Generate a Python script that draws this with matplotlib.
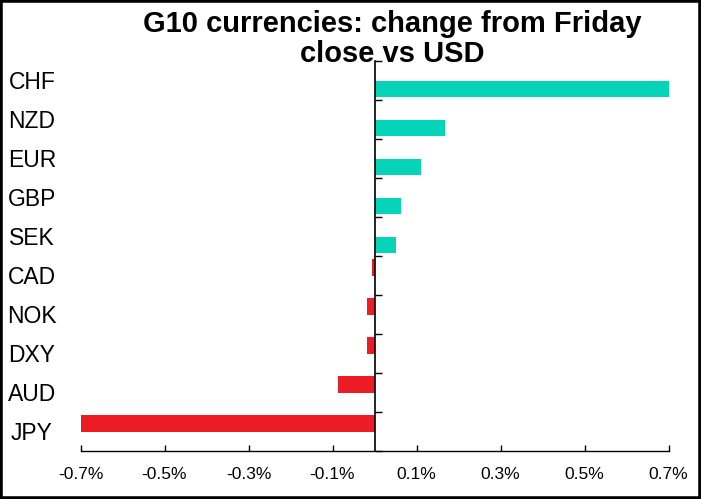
import matplotlib
matplotlib.use("Agg")
from matplotlib import pyplot as plt
from matplotlib.patches import Rectangle
import matplotlib.transforms as mtransforms

# data, top to bottom
currencies = ['CHF', 'NZD', 'EUR', 'GBP', 'SEK', 'CAD', 'NOK', 'DXY', 'AUD', 'JPY']
changes = [0.70, 0.167, 0.110, 0.062, 0.052, -0.007, -0.017, -0.017, -0.086, -0.70]
xticks = [-0.7, -0.5, -0.3, -0.1, 0.1, 0.3, 0.5, 0.7]

teal = '#06D4B9'
red = '#ED1C24'

plt.rcParams['font.family'] = ['Liberation Sans', 'DejaVu Sans']

fig = plt.figure(figsize=(7.01, 4.99), dpi=100)
ax = fig.add_axes([80.5 / 701, 48 / 499, 588 / 701, 390 / 499])

n = len(currencies)
ypos = list(range(n - 1, -1, -1))

# gains and losses sit in two different slots of each category (like two series)
pos_y = [y - 0.215 for y, v in zip(ypos, changes) if v >= 0]
pos_v = [v for v in changes if v >= 0]
neg_y = [y + 0.215 for y, v in zip(ypos, changes) if v < 0]
neg_v = [v for v in changes if v < 0]
ax.barh(pos_y, pos_v, height=0.43, color=teal, clip_on=False, zorder=2)
ax.barh(neg_y, neg_v, height=0.43, color=red, clip_on=False, zorder=2)

ax.set_xlim(-0.7, 0.7)
ax.set_ylim(-0.5, n - 0.5)

# axes lines
for s in ['top', 'right']:
    ax.spines[s].set_visible(False)
ax.spines['left'].set_position(('data', 0))
ax.spines['left'].set_linewidth(1.2)
ax.spines['bottom'].set_linewidth(1.0)
ax.spines['left'].set_zorder(3)

# y ticks on category boundaries, labels drawn separately
ax.set_yticks([k - 0.5 for k in range(n + 1)])
ax.set_yticklabels([])
ax.tick_params(axis='y', direction='in', length=5, width=1.0)

ax.set_xticks(xticks)
ax.set_xticklabels(['{:.1f}%'.format(v) for v in xticks])
ax.tick_params(axis='x', direction='in', length=4, width=1.0, pad=11.5, labelsize=12.5)

trans = mtransforms.blended_transform_factory(fig.transFigure, ax.transData)
for name, y in zip(currencies, ypos):
    ax.text(32 / 701, y - 0.06, name, transform=trans, ha='center', va='center', fontsize=16.5)

fig.text(392 / 701, 1 - 39 / 499, 'G10 currencies: change from Friday\nclose vs USD',
         ha='center', va='center', fontsize=21, fontweight='bold', linespacing=1.08)

# black frame around the chart
fig.patches.append(Rectangle((0, 0), 1, 1, transform=fig.transFigure, fill=False,
                             edgecolor='black', linewidth=4, zorder=10))

fig.savefig('out.png', dpi=100)
